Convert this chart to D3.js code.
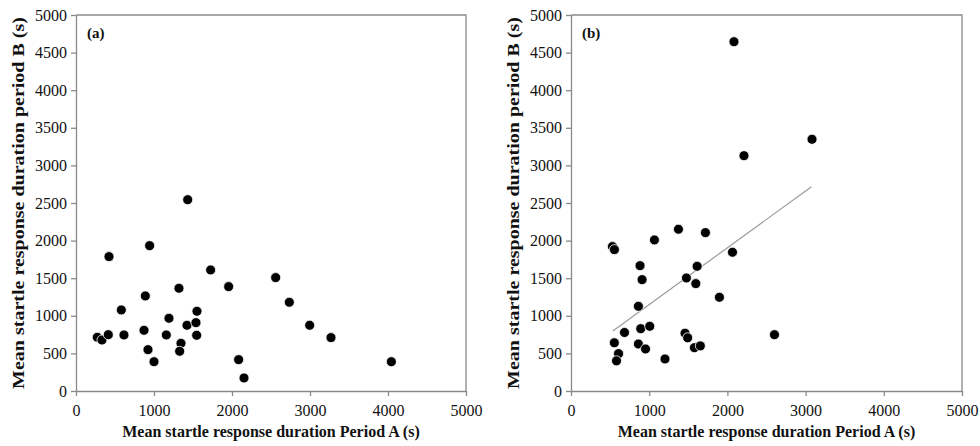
<!DOCTYPE html>
<html>
<head>
<meta charset="utf-8">
<script src="https://cdn.jsdelivr.net/npm/d3@7"></script>
<style>
  body { margin: 0; background: #fff; }
  svg { display: block; font-family: "Liberation Serif", "DejaVu Serif", serif; }
  svg text { font-family: "Liberation Serif", "DejaVu Serif", serif; fill: #111; }
</style>
</head>
<body>
<svg id="chart" width="980" height="446"></svg>
<script>
// Panel (a): mean startle response duration, Period A vs Period B
let periodA_a = [273, 333, 414, 423, 581, 615, 872, 889, 944, 923, 1000, 1158, 1192, 1320, 1346,
                 1329, 1423, 1538, 1551, 1547, 1726, 1957, 2085, 2154, 2560, 2735, 2996, 3269, 4043, 1432];
let periodB_a = [714, 678, 749, 1787, 1078, 745, 807, 1264, 1933, 550, 390, 745, 967, 1366, 634,
                 528, 874, 909, 1060, 741, 1610, 1388, 417, 173, 1508, 1180, 874, 710, 390, 2544];

// Panel (b)
let periodA_b = [530, 555, 1067, 1374, 1719, 2065, 883, 909, 1613, 1476, 1596, 1898, 862, 892, 1007,
                 684, 554, 608, 582, 862, 953, 1202, 1458, 1492, 1578, 1654, 2602, 2084, 2212, 3082];
let periodB_b = [1920, 1880, 2009, 2151, 2106, 1845, 1667, 1481, 1658, 1503, 1428, 1246, 1126, 829, 860,
                 778, 641, 497, 401, 625, 559, 426, 769, 707, 576, 600, 749, 4645, 3129, 3347];

// trend line for panel (b), end points
let trendB = [[535, 798], [3075, 2717]];

let xTicks = [0, 1000, 2000, 3000, 4000, 5000];
let yTicks = [0, 500, 1000, 1500, 2000, 2500, 3000, 3500, 4000, 4500, 5000];

let xTitle = "Mean startle response duration Period A (s)";
let yTitle = "Mean startle response duration period B (s)";

let svg = d3.select("#chart");

function drawPanel(left, right, label, xs, ys, trend) {
    let top = 15, bottom = 391;
    let xScale = d3.scaleLinear().domain([0, 5000]).range([left, right]);
    let yScale = d3.scaleLinear().domain([0, 5000]).range([bottom, top]);

    let g = svg.append("g");

    // frame (top and right)
    g.append("path")
        .attr("d", `M${left},${top}H${right}V${bottom}`)
        .attr("fill", "none")
        .attr("stroke", "#8a8a8a")
        .attr("stroke-width", 1.3);

    let xAxis = g.append("g")
        .attr("transform", `translate(0,${bottom})`)
        .call(d3.axisBottom(xScale).tickValues(xTicks).tickSize(5).tickSizeOuter(0).tickFormat(d3.format("d")));
    let yAxis = g.append("g")
        .attr("transform", `translate(${left},0)`)
        .call(d3.axisLeft(yScale).tickValues(yTicks).tickSize(5).tickSizeOuter(0).tickFormat(d3.format("d")));

    for (let ax of [xAxis, yAxis]) {
        ax.attr("font-family", null);
        ax.select(".domain").attr("stroke", "#8a8a8a").attr("stroke-width", 1.3);
        ax.selectAll(".tick line").attr("stroke", "#8a8a8a").attr("stroke-width", 1.3);
        ax.selectAll(".tick text")
            .attr("font-size", 16)
            .attr("fill", "#222");
    }
    xAxis.selectAll(".tick text").attr("dy", "1.05em");
    yAxis.selectAll(".tick text").attr("x", -9);

    // axis titles
    g.append("text")
        .attr("x", (left + right) / 2)
        .attr("y", 437)
        .attr("text-anchor", "middle")
        .attr("font-weight", "bold")
        .attr("font-size", 16)
        .text(xTitle);
    g.append("text")
        .attr("transform", `translate(${left - 52},${(top + bottom) / 2}) rotate(-90) scale(1.25,1)`)
        .attr("text-anchor", "middle")
        .attr("font-weight", "bold")
        .attr("font-size", 16)
        .text(yTitle);

    // panel label
    g.append("text")
        .attr("x", left + 11)
        .attr("y", 38)
        .attr("font-weight", "bold")
        .attr("font-size", 15)
        .text(label);

    if (trend) {
        g.append("line")
            .attr("x1", xScale(trend[0][0]))
            .attr("y1", yScale(trend[0][1]))
            .attr("x2", xScale(trend[1][0]))
            .attr("y2", yScale(trend[1][1]))
            .attr("stroke", "#9a9a9a")
            .attr("stroke-width", 1.2);
    }

    let pts = xs.map((x, i) => ({x: x, y: ys[i]}));
    g.selectAll("circle").data(pts).enter().append("circle")
        .attr("cx", d => xScale(d.x))
        .attr("cy", d => yScale(d.y))
        .attr("r", 5)
        .attr("fill", "#000")
        .attr("stroke", "#fff")
        .attr("stroke-width", 0.8);
}

drawPanel(76, 466, "(a)", periodA_a, periodB_a, null);
drawPanel(571, 962, "(b)", periodA_b, periodB_b, trendB);
</script>
</body>
</html>
